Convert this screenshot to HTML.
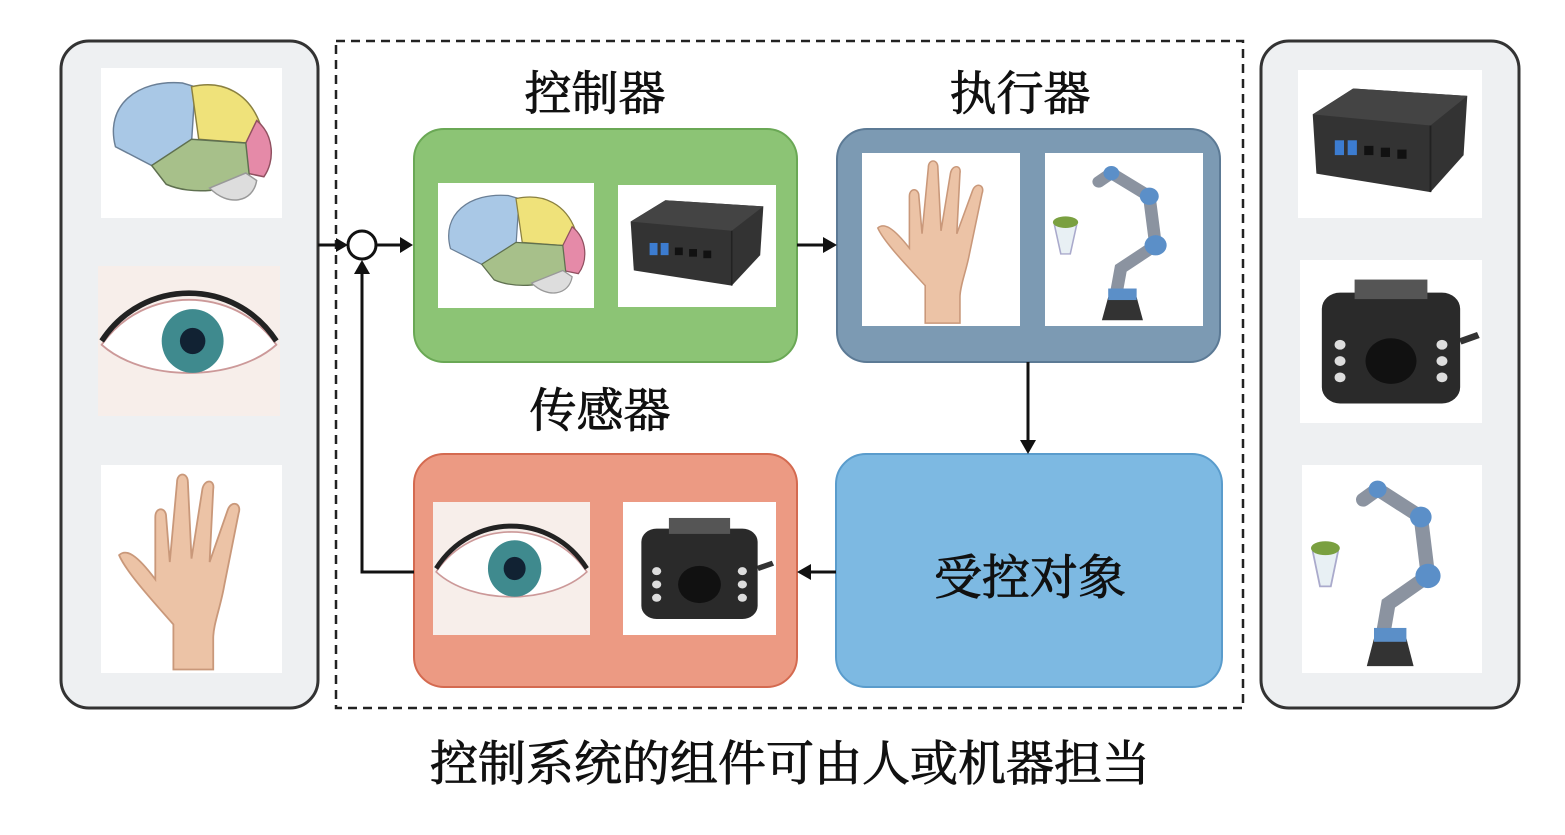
<!DOCTYPE html>
<html><head><meta charset="utf-8">
<style>
html,body{margin:0;padding:0;background:#fff;}
svg{display:block;}
text{font-family:"Liberation Serif","Noto Serif CJK SC","Noto Sans CJK SC",serif;fill:#111;stroke:#111;stroke-width:0.9;font-weight:normal;}
</style></head><body>
<svg width="1565" height="835" viewBox="0 0 1565 835" xmlns="http://www.w3.org/2000/svg">
<defs>
<symbol id="brain" viewBox="0 0 100 80" preserveAspectRatio="none">
<rect width="100" height="80" fill="#fff"/>
<path d="M8 42 C2 20 20 6 45 8 L52 10 L50 40 L28 52 Z" fill="#a9c8e6" stroke="#6a7f96" stroke-width="0.8"/>
<path d="M50 10 C68 6 82 14 88 30 L80 40 L54 38 Z" fill="#efe27a" stroke="#8a8040" stroke-width="0.8"/>
<path d="M86 28 C96 36 96 50 90 58 L80 56 L80 40 Z" fill="#e58aa8" stroke="#905060" stroke-width="0.8"/>
<path d="M28 52 L50 38 L80 40 L82 58 C72 66 50 68 36 62 Z" fill="#a7c08a" stroke="#5f7050" stroke-width="0.8"/>
<path d="M60 64 C70 74 84 72 86 60 L80 56 Z" fill="#ddd" stroke="#999" stroke-width="0.8"/>
</symbol>
<symbol id="eye" viewBox="0 0 100 80" preserveAspectRatio="none">
<rect width="100" height="80" fill="#f7eeea"/>
<path d="M2 42 C25 10 75 10 98 42 C75 62 25 62 2 42 Z" fill="#fff" stroke="#c99" stroke-width="1"/>
<circle cx="52" cy="40" r="17" fill="#3f8a8e"/>
<circle cx="52" cy="40" r="7" fill="#123"/>
<path d="M2 40 C25 6 75 6 98 40" fill="none" stroke="#222" stroke-width="3"/>
</symbol>
<symbol id="hand" viewBox="0 0 100 120" preserveAspectRatio="none">
<rect width="100" height="120" fill="#fff"/>
<path d="M40 118 L40 92 C30 80 14 62 10 52 C14 48 20 52 30 66 L30 30 C30 24 36 24 36 30 L38 56 L42 10 C42 4 48 4 48 10 L50 54 L56 14 C57 8 63 8 62 14 L60 56 L70 26 C72 20 78 22 76 28 L68 70 C66 82 62 92 62 100 L62 118 Z" fill="#ecc3a6" stroke="#c9987a" stroke-width="1"/>
</symbol>
<symbol id="box" viewBox="0 0 100 80" preserveAspectRatio="none">
<rect width="100" height="80" fill="#fff"/>
<path d="M8 24 L30 10 L92 14 L90 46 L72 66 L10 56 Z" fill="#333"/>
<path d="M8 24 L72 30 L92 14 L30 10 Z" fill="#444"/>
<path d="M72 30 L72 66" stroke="#222" stroke-width="1"/>
<rect x="20" y="38" width="5" height="8" fill="#3c7cd0"/><rect x="27" y="38" width="5" height="8" fill="#3c7cd0"/>
<rect x="36" y="41" width="5" height="5" fill="#111"/><rect x="45" y="42" width="5" height="5" fill="#111"/><rect x="54" y="43" width="5" height="5" fill="#111"/>
</symbol>
<symbol id="cam" viewBox="0 0 100 100" preserveAspectRatio="none">
<rect width="100" height="100" fill="#fff"/>
<path d="M88 50 L98 46" stroke="#333" stroke-width="4"/>
<rect x="12" y="20" width="76" height="68" rx="10" fill="#2a2a2a"/>
<rect x="30" y="12" width="40" height="12" fill="#555"/>
<circle cx="50" cy="62" r="14" fill="#111"/>
<g fill="#ddd"><circle cx="22" cy="52" r="3"/><circle cx="22" cy="62" r="3"/><circle cx="22" cy="72" r="3"/><circle cx="78" cy="52" r="3"/><circle cx="78" cy="62" r="3"/><circle cx="78" cy="72" r="3"/></g>
</symbol>
<symbol id="robot" viewBox="0 0 100 120" preserveAspectRatio="none">
<rect width="100" height="120" fill="#fff"/>
<path d="M44 104 L48 80 L70 64 L66 30 L42 14 L34 20" fill="none" stroke="#8b93a0" stroke-width="8" stroke-linecap="round"/>
<circle cx="70" cy="64" r="7" fill="#5b8fc8"/><circle cx="66" cy="30" r="6" fill="#5b8fc8"/><circle cx="42" cy="14" r="5" fill="#5b8fc8"/>
<path d="M36 116 L40 100 L58 100 L62 116 Z" fill="#333"/>
<rect x="40" y="94" width="18" height="8" fill="#5b8fc8"/>
<path d="M6 50 L20 50 L16 70 L10 70 Z" fill="#e8f0f4" stroke="#aac" stroke-width="1"/>
<ellipse cx="13" cy="48" rx="8" ry="4" fill="#7aa040"/>
</symbol>
</defs>

<rect x="61" y="41" width="257" height="667" rx="28" fill="#eef0f2" stroke="#333" stroke-width="3"/>
<use href="#brain" x="101" y="68" width="181" height="150"/>
<use href="#eye" x="98" y="266" width="182" height="150"/>
<use href="#hand" x="101" y="465" width="181" height="208"/>

<rect x="1261" y="41" width="258" height="667" rx="28" fill="#eef0f2" stroke="#333" stroke-width="3"/>
<use href="#box" x="1298" y="70" width="184" height="148"/>
<use href="#cam" x="1300" y="260" width="182" height="163"/>
<use href="#robot" x="1302" y="465" width="180" height="208"/>

<rect x="336" y="41" width="907" height="667" fill="none" stroke="#222" stroke-width="2.5" stroke-dasharray="9,6"/>

<text x="595" y="110" font-size="47" text-anchor="middle">控制器</text>
<text x="1020" y="110" font-size="47" text-anchor="middle">执行器</text>
<text x="600" y="427" font-size="47" text-anchor="middle">传感器</text>

<rect x="414" y="129" width="383" height="233" rx="30" fill="#8cc475" stroke="#6aa855" stroke-width="2"/>
<use href="#brain" x="438" y="183" width="156" height="125"/>
<use href="#box" x="618" y="185" width="158" height="122"/>

<rect x="837" y="129" width="383" height="233" rx="30" fill="#7c9ab3" stroke="#5c7a95" stroke-width="2"/>
<use href="#hand" x="862" y="153" width="158" height="173"/>
<use href="#robot" x="1045" y="153" width="158" height="173"/>

<rect x="414" y="454" width="383" height="233" rx="30" fill="#ec9a83" stroke="#d46a50" stroke-width="2"/>
<use href="#eye" x="433" y="502" width="157" height="133"/>
<use href="#cam" x="623" y="502" width="153" height="133"/>

<rect x="836" y="454" width="386" height="233" rx="30" fill="#7db9e2" stroke="#5a9ccc" stroke-width="2"/>
<text x="1030" y="594" font-size="48" text-anchor="middle">受控对象</text>

<g stroke="#111" stroke-width="3" fill="none">
<line x1="318" y1="245" x2="340" y2="245"/>
<circle cx="362" cy="245" r="14"/>
<line x1="376" y1="245" x2="400" y2="245"/>
<line x1="797" y1="245" x2="824" y2="245"/>
<line x1="1028" y1="362" x2="1028" y2="440"/>
<line x1="836" y1="572" x2="811" y2="572"/>
<polyline points="414,572 362,572 362,274"/>
</g>
<g fill="#111">
<polygon points="348,245 336,238 336,252"/>
<polygon points="413,245 400,237 400,253"/>
<polygon points="837,245 823,237 823,253"/>
<polygon points="1028,454 1020,440 1036,440"/>
<polygon points="797,572 811,564 811,580"/>
<polygon points="362,260 354,274 370,274"/>
</g>

<text x="790" y="780" font-size="48" text-anchor="middle">控制系统的组件可由人或机器担当</text>
</svg>
</body></html>
